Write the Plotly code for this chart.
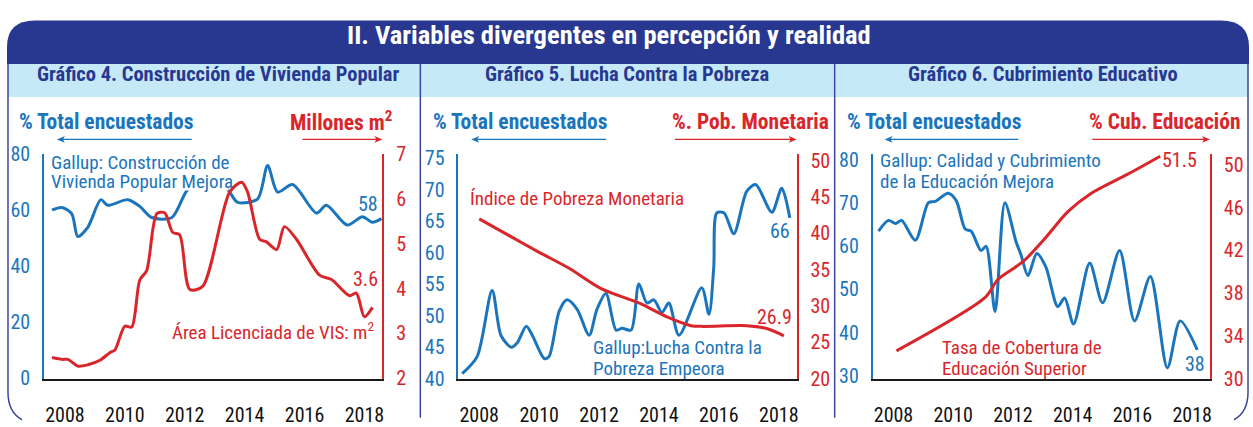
import plotly.graph_objects as go

W, H = 1253, 427

# ---------------- DATA ----------------
# Gráfico 4
p1_gallup_year = [2007.57, 2007.9, 2008.23, 2008.43, 2008.77, 2009.2, 2009.43, 2010.1, 2010.5, 2010.9,
                  2011.57, 2012.07, 2012.55, 2013.07, 2013.5, 2013.77, 2014.43, 2014.77, 2015.1, 2015.6,
                  2016.4, 2016.73, 2017.43, 2017.93, 2018.27, 2018.57]
p1_gallup_val = [60.1, 61.0, 58.7, 50.6, 54.0, 63.8, 61.8, 63.8, 61.4, 57.4,
                 57.4, 67.0, 71.0, 72.0, 66.5, 62.8, 64.0, 76.0, 66.5, 69.2,
                 59.0, 61.8, 54.7, 57.7, 55.7, 57.0]
p1_area_year = [2007.57, 2007.9, 2008.1, 2008.43, 2008.77, 2009.17, 2009.5, 2009.67, 2010.0, 2010.23,
                2010.5, 2010.73, 2011.07, 2011.33, 2011.6, 2011.83, 2012.17, 2012.6, 2013.5, 2013.9,
                2014.1, 2014.5, 2014.73, 2015.07, 2015.33, 2015.73, 2016.5, 2016.9, 2017.5, 2017.73,
                2018.0, 2018.27]
p1_area_val = [2.46, 2.42, 2.42, 2.27, 2.30, 2.40, 2.57, 2.63, 3.16, 3.14,
               4.19, 4.40, 5.67, 5.69, 5.25, 5.20, 3.98, 4.05, 6.15, 6.37,
               6.15, 5.10, 5.04, 4.87, 5.38, 5.10, 4.30, 4.20, 3.84, 3.90,
               3.37, 3.58]

# Gráfico 5
p2_gallup_year = [2007.43, 2007.93, 2008.43, 2008.73, 2009.07, 2009.27, 2009.57, 2009.77, 2010.17, 2010.33,
                  2010.67, 2010.93, 2011.27, 2011.67, 2011.93, 2012.23, 2012.57, 2012.77, 2013.07, 2013.33,
                  2013.6, 2013.83, 2014.1, 2014.33, 2014.67, 2015.43, 2015.67, 2015.83, 2015.93, 2016.17,
                  2016.5, 2016.93, 2017.23, 2017.77, 2018.1, 2018.37]
p2_gallup_val = [40.8, 43.5, 54.0, 46.8, 45.0, 45.7, 48.3, 46.9, 43.2, 43.5,
                 50.7, 52.5, 51.0, 46.9, 51.0, 53.5, 47.7, 48.0, 47.7, 55.0,
                 52.0, 52.5, 50.5, 52.0, 46.9, 54.4, 50.2, 57.7, 66.3, 66.3,
                 63.0, 69.7, 70.8, 66.4, 70.2, 65.5]
p2_pobreza_year = [2008.0, 2009.0, 2010.0, 2011.0, 2012.07, 2013.4, 2014.27, 2015.07, 2015.5, 2016.93,
                   2017.6, 2018.17]
p2_pobreza_val = [42.0, 39.7, 37.4, 35.2, 32.4, 30.3, 28.5, 27.3, 27.2, 27.3,
                  26.9, 25.9]

# Gráfico 6
p3_gallup_year = [2007.5, 2007.83, 2008.07, 2008.27, 2008.73, 2009.17, 2009.4, 2009.83, 2010.1, 2010.4,
                  2010.6, 2010.93, 2011.1, 2011.4, 2011.73, 2012.1, 2012.27, 2012.5, 2012.8, 2013.1,
                  2013.5, 2013.73, 2014.03, 2014.57, 2015.0, 2015.57, 2016.07, 2016.6, 2017.17, 2017.6,
                  2018.17]
p3_gallup_val = [63.5, 66.0, 65.3, 66.0, 61.4, 70.1, 70.4, 72.3, 70.6, 64.0,
                 63.5, 59.0, 60.0, 44.9, 70.1, 61.1, 58.0, 53.2, 58.3, 55.2,
                 46.0, 48.0, 42.0, 56.1, 46.9, 59.0, 42.7, 53.0, 31.8, 42.7,
                 36.0]
p3_cob_year = [2008.1, 2011.07, 2011.5, 2012.07, 2012.4, 2013.07, 2013.83, 2014.6, 2015.83, 2016.93]
p3_cob_val = [32.6, 37.6, 39.3, 40.4, 41.1, 43.1, 45.6, 47.3, 49.1, 50.8]

year_ticks = [2008, 2010, 2012, 2014, 2016, 2018]

# ---------------- STYLE ----------------
FONT = "Liberation Sans Narrow, Arial Narrow, Roboto Condensed, DejaVu Sans Condensed, sans-serif"
BLUE = "#1B75BC"
RED = "#D9262B"
NAVY = "#283891"
LIGHT = "#C6E9F8"
BORDER = "#3D47A0"


def px(x):
    return x / W


def py(y):
    return 1 - y / H


fig = go.Figure()

panels = [
    dict(x0=44, x1=383, yl=[-0.3, 80.3], yr=[1.99, 7.01], ylt=[0, 20, 40, 60, 80], yrt=[2, 3, 4, 5, 6, 7],
         gx=p1_gallup_year, gy=p1_gallup_val, rx=p1_area_year, ry=p1_area_val),
    dict(x0=459, x1=798, yl=[40, 75.7], yr=[20, 51], ylt=[40, 45, 50, 55, 60, 65, 70, 75],
         yrt=[20, 25, 30, 35, 40, 45, 50],
         gx=p2_gallup_year, gy=p2_gallup_val, rx=p2_pobreza_year, ry=p2_pobreza_val),
    dict(x0=874, x1=1212, yl=[29.3, 81.5], yr=[30, 51.05], ylt=[30, 40, 50, 60, 70, 80],
         yrt=[30, 34, 38, 42, 46, 50],
         gx=p3_gallup_year, gy=p3_gallup_val, rx=p3_cob_year, ry=p3_cob_val),
]

Y_TOP, Y_BOT = 150, 388.5
layout_axes = {}
for i, p in enumerate(panels):
    xn = 1 + i
    yl_n = 1 + 2 * i
    yr_n = 2 + 2 * i
    xs = "" if xn == 1 else str(xn)
    yls = "" if yl_n == 1 else str(yl_n)
    yrs = str(yr_n)
    dom_x = [px(p["x0"]), px(p["x1"])]
    dom_y = [py(Y_BOT), py(Y_TOP)]
    layout_axes["xaxis" + xs] = dict(
        domain=dom_x, range=[2007.3, 2018.6], anchor="y" + yls, tickvals=year_ticks,
        showline=True, linecolor="#1a1a1a", linewidth=1.5, showgrid=False, zeroline=False,
        ticks="", tickfont=dict(family=FONT, size=20, color="#111"), ticklabelstandoff=18,
    )
    layout_axes["yaxis" + yls] = dict(
        domain=dom_y, range=p["yl"], anchor="x" + xs, tickvals=p["ylt"], side="left",
        showline=True, linecolor=BLUE, linewidth=1.5, showgrid=False, zeroline=False,
        ticks="", tickfont=dict(family=FONT, size=20, color=BLUE), ticklabelstandoff=8,
    )
    layout_axes["yaxis" + yrs] = dict(
        domain=dom_y, range=p["yr"], anchor="x" + xs, overlaying="y" + yls, side="right",
        tickvals=p["yrt"],
        showline=True, linecolor=RED, linewidth=1.5, showgrid=False, zeroline=False,
        ticks="", tickfont=dict(family=FONT, size=20, color=RED), ticklabelstandoff=8,
    )
    fig.add_trace(go.Scatter(x=p["rx"], y=p["ry"], mode="lines", xaxis="x" + xs, yaxis="y" + yrs,
                             line=dict(color=RED, width=3, shape="spline", smoothing=0.8),
                             hoverinfo="skip", showlegend=False))
    fig.add_trace(go.Scatter(x=p["gx"], y=p["gy"], mode="lines", xaxis="x" + xs, yaxis="y" + yls,
                             line=dict(color=BLUE, width=3, shape="spline", smoothing=0.8),
                             hoverinfo="skip", showlegend=False))

shapes = []
# header band with rounded top corners
band = (f"M {px(7)},{py(55)} L {px(7)},{py(37)} Q {px(7)},{py(9)} {px(35)},{py(9)} "
        f"L {px(1223)},{py(9)} Q {px(1251)},{py(9)} {px(1251)},{py(37)} L {px(1251)},{py(55)} Z")
shapes.append(dict(type="path", path=band, xref="paper", yref="paper", fillcolor=NAVY, line=dict(width=0),
                   layer="below"))
shapes.append(dict(type="rect", xref="paper", yref="paper", x0=px(8), x1=px(1250), y0=py(90), y1=py(55),
                   fillcolor=LIGHT, line=dict(width=0), layer="below"))
# outer border
left_b = f"M {px(8)},{py(55)} L {px(8)},{py(403)} Q {px(8)},{py(424)} {px(22)},{py(432)}"
right_b = f"M {px(1250)},{py(55)} L {px(1250)},{py(403)} Q {px(1250)},{py(424)} {px(1236)},{py(432)}"
for pth in (left_b, right_b):
    shapes.append(dict(type="path", path=pth, xref="paper", yref="paper", line=dict(color=BORDER, width=1.5)))
for sx in (421, 836):
    shapes.append(dict(type="line", xref="paper", yref="paper", x0=px(sx), x1=px(sx), y0=py(55), y1=py(430),
                       line=dict(color=BORDER, width=1.5)))
# white backing behind the Gallup label of Gráfico 4 (hides the line beneath the text)
shapes.append(dict(type="rect", xref="paper", yref="paper", x0=px(48), x1=px(229), y0=py(189), y1=py(151),
                   fillcolor="white", line=dict(width=0), layer="above"))


def arrow(x_head, x_tail, y, color):
    d = 1 if x_head > x_tail else -1
    shapes.append(dict(type="line", xref="paper", yref="paper", x0=px(x_tail), x1=px(x_head - d * 5),
                       y0=py(y), y1=py(y), line=dict(color=color, width=1.3)))
    tri = (f"M {px(x_head)},{py(y)} L {px(x_head - d * 8)},{py(y - 3.5)} "
           f"L {px(x_head - d * 6)},{py(y)} L {px(x_head - d * 8)},{py(y + 3.5)} Z")
    shapes.append(dict(type="path", path=tri, xref="paper", yref="paper", fillcolor=color,
                       line=dict(width=0)))


ann = []


def text(x, y, s, color, size, bold=False, xanchor="left", yanchor="middle", align="left"):
    ann.append(dict(x=px(x), y=py(y), xref="paper", yref="paper", text=s, showarrow=False,
                    xanchor=xanchor, yanchor=yanchor, align=align,
                    font=dict(family=FONT, size=size, color=color,
                              weight="bold" if bold else "normal")))


text(610, 24, "II. Variables divergentes en percepción y realidad", "white", 26.5, True, "center")
text(218, 66, "Gráfico 4. Construcción de Vivienda Popular", NAVY, 20.5, True, "center")
text(629, 66, "Gráfico 5. Lucha Contra la Pobreza", NAVY, 20.5, True, "center")
text(1045, 66, "Gráfico 6. Cubrimiento Educativo", NAVY, 20.5, True, "center")

# axis captions
text(17, 116, "% Total encuestados", BLUE, 21.5, True)
arrow(57, 192, 135, BLUE)
text(395, 116, "Millones m<sup>2</sup>", RED, 21.5, True, "right")
arrow(383, 303, 135, RED)

text(432, 116, "% Total encuestados", BLUE, 21.5, True)
arrow(472, 607, 135, BLUE)
text(832, 116, "%. Pob. Monetaria", RED, 21.5, True, "right")
arrow(798, 676, 135, RED)

text(846, 116, "% Total encuestados", BLUE, 21.5, True)
arrow(886, 1020, 135, BLUE)
text(1245, 116, "% Cub. Educación", RED, 21.5, True, "right")
arrow(1212, 1094, 135, RED)

# in-plot labels
text(49, 159, "Gallup: Construcción de", BLUE, 19)
text(49, 180, "Vivienda Popular Mejora", BLUE, 19)
text(381, 203, "58", BLUE, 20, False, "right")
text(381, 283, "3.6", RED, 20, False, "right")
text(377, 338, "Área Licenciada de VIS: m<sup>2</sup>", RED, 19, False, "right")

text(469, 198, "Índice de Pobreza Monetaria", RED, 19)
text(592, 355, "Gallup:Lucha Contra la", BLUE, 19)
text(592, 378, "Pobreza Empeora", BLUE, 19)
text(793, 232, "66", BLUE, 20, False, "right")
text(795, 323, "26.9", RED, 20, False, "right")

text(879, 157, "Gallup: Calidad y Cubrimiento", BLUE, 19)
text(879, 180, "de la Educación Mejora", BLUE, 19)
text(942, 355, "Tasa de Cobertura de", RED, 19)
text(942, 378, "Educación Superior", RED, 19)
text(1209, 373, "38", BLUE, 20, False, "right")
text(1201, 157, "51.5", RED, 20, False, "right")

fig.update_layout(
    width=W, height=H, margin=dict(l=0, r=0, t=0, b=0),
    paper_bgcolor="white", plot_bgcolor="rgba(0,0,0,0)",
    shapes=shapes, annotations=ann, showlegend=False,
    font=dict(family=FONT),
    **layout_axes,
)

fig.write_html("out.html")
